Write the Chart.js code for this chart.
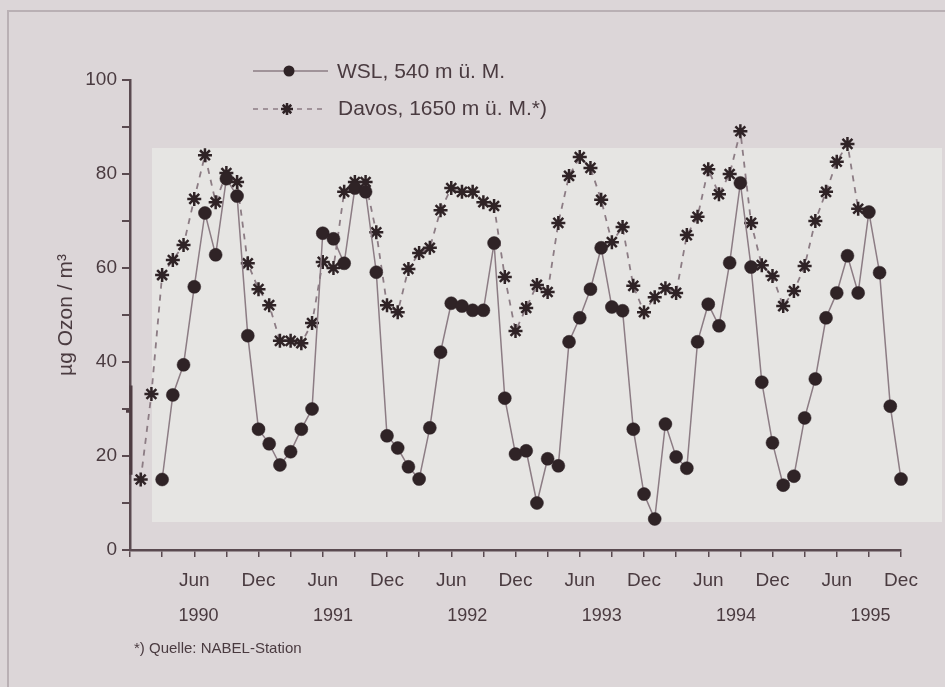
<!DOCTYPE html>
<html>
<head>
<meta charset="utf-8">
<script src="https://cdn.jsdelivr.net/npm/chart.js@4.4.0/dist/chart.umd.min.js"></script>
<style>
  html, body { margin: 0; padding: 0; background: #dcd6d8; }
  #wrap { width: 945px; height: 687px; position: relative; }
</style>
</head>
<body>
<div id="wrap"><canvas id="ozon" width="945" height="687"></canvas></div>
<script>
// month index: 0 = Dec 1989, 1 = Jan 1990 ... 72 = Dec 1995
var wslStart = 3;   // Mar 1990
var wslValues = [15, 33, 39.4, 56, 71.7, 62.8, 79, 75.3, 45.6, 25.7,
  22.6, 18.1, 20.9, 25.7, 30, 67.4, 66.2, 61, 77, 76.2,
  59.1, 24.3, 21.7, 17.7, 15.1, 26, 42.1, 52.5, 51.9, 51,
  51, 65.3, 32.3, 20.4, 21.1, 10, 19.4, 17.9, 44.3, 49.4,
  55.5, 64.3, 51.7, 50.9, 25.7, 11.9, 6.6, 26.8, 19.8, 17.4,
  44.3, 52.3, 47.7, 61.1, 78.1, 60.2, 35.7, 22.8, 13.8, 15.7,
  28.1, 36.4, 49.4, 54.7, 62.6, 54.7, 71.9, 59, 30.6, 15.1];

var davosStart = 1; // Jan 1990
var davosValues = [15, 33.2, 58.5, 61.7, 64.9, 74.7, 84, 74, 80.2, 78.3,
  61, 55.5, 52.1, 44.5, 44.5, 44, 48.3, 61.3, 60, 76.2,
  78.3, 78.3, 67.6, 52.1, 50.6, 59.8, 63.2, 64.3, 72.3, 77,
  76.2, 76.2, 74, 73.2, 58.1, 46.6, 51.5, 56.4, 54.9, 69.6,
  79.6, 83.6, 81.3, 74.5, 65.5, 68.7, 56.2, 50.6, 53.8, 55.7,
  54.7, 67, 70.9, 81, 75.7, 80, 89.1, 69.6, 60.6, 58.3,
  51.9, 55.1, 60.4, 70, 76.2, 82.6, 86.4, 72.6];

var monthLabels = ['Dec', 'Jun'];
var yearLabels = ['1990', '1991', '1992', '1993', '1994', '1995'];
var wslLabel = 'WSL, 540 m ü. M.';
var davosLabel = 'Davos, 1650 m ü. M.*)';
var footnote = '*) Quelle: NABEL-Station';

var ink = '#4a3b40';
var dot = '#2f2326';
var lineCol = '#8c7c84';

function toPoints(start, vals) {
  var pts = [];
  for (var i = 0; i < vals.length; i++) pts.push({ x: start + i, y: vals[i] });
  return pts;
}

// background panels, legend, years and footnote
var extras = {
  id: 'extras',
  beforeDraw: function (chart) {
    var c = chart.ctx;
    c.save();
    c.fillStyle = '#dcd6d8';
    c.fillRect(0, 0, chart.width, chart.height);
    c.fillStyle = '#e6e5e3';
    c.fillRect(152, 148, 790, 374);
    c.strokeStyle = '#b9b0b4';
    c.lineWidth = 2;
    c.beginPath();
    c.moveTo(8, 687); c.lineTo(8, 11); c.lineTo(945, 11);
    c.stroke();
    c.restore();
  },
  afterDraw: function (chart) {
    var c = chart.ctx;
    var xs = chart.scales.x;
    var ys = chart.scales.y;
    c.save();
    // bracket mark on the y axis
    c.strokeStyle = '#4e3c42';
    c.lineWidth = 3;
    c.beginPath();
    c.moveTo(131, ys.getPixelForValue(35)); c.lineTo(131, ys.getPixelForValue(16));
    c.moveTo(131, ys.getPixelForValue(29.5)); c.lineTo(126, ys.getPixelForValue(29.5));
    c.stroke();

    c.fillStyle = ink;
    c.font = '18px "Liberation Sans", Arial, sans-serif';
    c.textAlign = 'center';
    c.textBaseline = 'middle';
    for (var i = 0; i < yearLabels.length; i++) {
      c.fillText(yearLabels[i], xs.getPixelForValue(6.4 + 12.55 * i), 616);
    }
    c.textAlign = 'left';
    c.font = '15px "Liberation Sans", Arial, sans-serif';
    c.fillText(footnote, 134, 649);

    // legend
    c.font = '21px "Liberation Sans", Arial, sans-serif';
    c.fillText(wslLabel, 337, 72);
    c.fillText(davosLabel, 338, 109);
    c.strokeStyle = lineCol;
    c.lineWidth = 1.5;
    c.beginPath(); c.moveTo(253, 71); c.lineTo(328, 71); c.stroke();
    c.fillStyle = dot;
    c.beginPath(); c.arc(289, 71, 5.5, 0, Math.PI * 2); c.fill();
    c.setLineDash([5, 5]);
    c.lineWidth = 1.5;
    c.beginPath(); c.moveTo(253, 109); c.lineTo(278, 109); c.stroke();
    c.beginPath(); c.moveTo(297, 109); c.lineTo(322, 109); c.stroke();
    c.setLineDash([]);
    c.strokeStyle = dot;
    c.lineWidth = 2.5;
    var r = 6;
    c.beginPath();
    for (var a = 0; a < 4; a++) {
      var ang = a * Math.PI / 4;
      c.moveTo(287 - r * Math.cos(ang), 109 - r * Math.sin(ang));
      c.lineTo(287 + r * Math.cos(ang), 109 + r * Math.sin(ang));
    }
    c.stroke();
    c.restore();
  }
};

new Chart(document.getElementById('ozon'), {
  type: 'line',
  data: {
    datasets: [{
      label: wslLabel,
      data: toPoints(wslStart, wslValues),
      borderColor: lineCol,
      borderWidth: 1.5,
      pointStyle: 'circle',
      pointRadius: 6.5,
      pointBackgroundColor: dot,
      pointBorderColor: dot,
      pointBorderWidth: 0.5,
      tension: 0,
      clip: false,
      order: 1
    }, {
      label: davosLabel,
      data: toPoints(davosStart, davosValues),
      borderColor: lineCol,
      borderWidth: 1.8,
      borderDash: [6, 6],
      pointStyle: 'star',
      pointRadius: 7,
      pointBorderColor: dot,
      pointBorderWidth: 2.5,
      pointBackgroundColor: dot,
      tension: 0,
      clip: false,
      order: 2
    }]
  },
  options: {
    responsive: false,
    animation: false,
    layout: { padding: { left: 50, top: 80, right: 44, bottom: 0 } },
    plugins: { legend: { display: false }, tooltip: { enabled: false } },
    scales: {
      x: {
        type: 'linear',
        min: 0,
        max: 72,
        afterFit: function (s) { s.height = 137; },
        border: { color: '#5a4a50', width: 2.5 },
        grid: { drawOnChartArea: false, tickLength: 7, color: '#5a4a50', lineWidth: 1.5 },
        ticks: {
          stepSize: 3,
          autoSkip: false,
          maxRotation: 0,
          padding: 12,
          color: ink,
          font: { family: '"Liberation Sans", Arial, sans-serif', size: 19 },
          callback: function (v) {
            if (v === 0 || v % 6 !== 0) return '';
            return monthLabels[(v / 6) % 2];
          }
        }
      },
      y: {
        min: 0,
        max: 100,
        afterFit: function (s) { s.width = 80; },
        border: { color: '#5a4a50', width: 2.5 },
        grid: { drawOnChartArea: false, tickLength: 8, color: '#5a4a50', lineWidth: 2 },
        title: {
          display: true,
          text: 'µg Ozon / m³',
          color: ink,
          font: { family: '"Liberation Sans", Arial, sans-serif', size: 21 }
        },
        ticks: {
          stepSize: 10,
          padding: 5,
          color: ink,
          font: { family: '"Liberation Sans", Arial, sans-serif', size: 19 },
          callback: function (v) { return v % 20 === 0 ? v : ''; }
        }
      }
    }
  },
  plugins: [extras]
});
</script>
</body>
</html>
